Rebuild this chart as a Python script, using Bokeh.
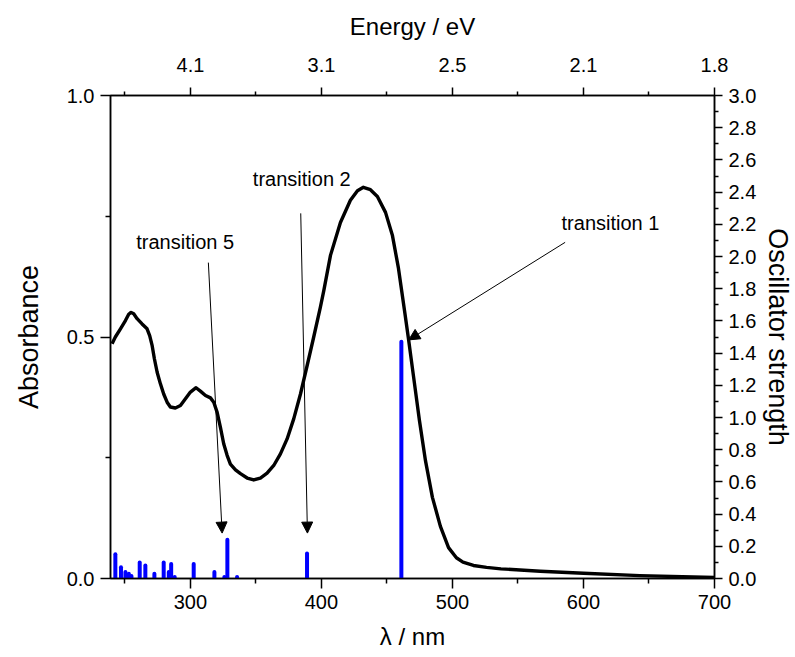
from bokeh.plotting import figure
from bokeh.models import (Range1d, LinearAxis, FixedTicker, PrintfTickFormatter,
                          Arrow, NormalHead, Label, ColumnDataSource)
from bokeh.embed import file_html
from bokeh.resources import INLINE

# ---- data ----
wavelength = [240.2, 242.7, 246.6, 250.4, 252.9, 254.7, 256.7, 259.3, 263.1, 266.9,
              268.9, 270.8, 272.5, 274.6, 277.1, 279.6, 282.2, 284.7, 288.5, 292.4,
              296.2, 300.0, 304.3, 307.6, 311.5, 315.3, 317.8, 320.4, 322.9, 325.4,
              328.0, 330.5, 334.4, 338.2, 343.3, 348.3, 353.4, 358.5, 363.6, 368.7,
              373.8, 378.9, 384.0, 389.1, 394.1, 399.2, 401.8, 406.9, 414.5, 422.1,
              427.5, 432.0, 437.4, 442.7, 448.9, 454.2, 458.8, 463.4, 466.4, 470.2,
              474.8, 479.4, 484.7, 490.8, 497.0, 503.0, 508.0, 516.0, 526.0, 537.0,
              567.0, 600.0, 643.0, 700.0]
absorbance = [0.486, 0.500, 0.517, 0.534, 0.547, 0.551, 0.548, 0.538, 0.527, 0.517,
              0.503, 0.482, 0.455, 0.427, 0.403, 0.382, 0.365, 0.355, 0.353, 0.358,
              0.372, 0.386, 0.395, 0.388, 0.379, 0.374, 0.365, 0.344, 0.313, 0.279,
              0.255, 0.237, 0.225, 0.217, 0.208, 0.204, 0.208, 0.218, 0.234, 0.258,
              0.289, 0.331, 0.382, 0.441, 0.500, 0.562, 0.596, 0.669, 0.737, 0.783,
              0.803, 0.810, 0.805, 0.791, 0.758, 0.710, 0.642, 0.555, 0.497, 0.420,
              0.327, 0.244, 0.168, 0.108, 0.064, 0.043, 0.034, 0.027, 0.023, 0.020,
              0.015, 0.011, 0.006, 0.002]

transition_wl = [242.7, 247, 250.4, 253, 255, 261.3, 265.6, 272.5, 279.6, 283.5,
                 285.3, 288, 302.5, 318.3, 325.9, 328.2, 335.6, 389, 461]
osc_strength = [0.15, 0.07, 0.04, 0.03, 0.015, 0.10, 0.08, 0.03, 0.10, 0.04,
                0.09, 0.01, 0.09, 0.04, 0.01, 0.24, 0.01, 0.155, 1.47]

wl_major_ticks = [300, 400, 500, 600, 700]
wl_minor_ticks = [250, 350, 450, 550, 650]
energy_labels = ["4.1", "3.1", "2.5", "2.1", "1.8"]
abs_major_ticks = [0.0, 0.5, 1.0]
abs_minor_ticks = [0.25, 0.75]
osc_major_ticks = [0.0, 0.2, 0.4, 0.6, 0.8, 1.0, 1.2, 1.4, 1.6, 1.8, 2.0,
                   2.2, 2.4, 2.6, 2.8, 3.0]
osc_minor_ticks = [0.1, 0.3, 0.5, 0.7, 0.9, 1.1, 1.3, 1.5, 1.7, 1.9, 2.1,
                   2.3, 2.5, 2.7, 2.9]

FONT = "Liberation Sans"

p = figure(frame_width=604, frame_height=483, output_backend="svg",
           toolbar_location=None, x_range=Range1d(239, 700),
           y_range=Range1d(0, 1.0), x_axis_location=None, y_axis_location=None,
           min_border_left=110, min_border_top=95, min_border_right=0,
           min_border_bottom=0)
p.extra_y_ranges = {"osc": Range1d(0, 3.0)}
p.grid.visible = False
p.outline_line_color = "black"
p.outline_line_width = 1.5
p.background_fill_color = "white"
p.border_fill_color = "white"


def style_axis(ax, major_out=10, minor_out=5, lab_standoff=5, title_standoff=10,
               title_size="24px"):
    ax.axis_line_color = "black"
    ax.axis_line_width = 1.5
    ax.major_tick_line_color = "black"
    ax.major_tick_line_width = 1.5
    ax.minor_tick_line_color = "black"
    ax.minor_tick_line_width = 1.5
    ax.major_tick_in = 0
    ax.major_tick_out = major_out
    ax.minor_tick_in = 0
    ax.minor_tick_out = minor_out
    ax.major_label_text_font = FONT
    ax.major_label_text_font_size = "20px"
    ax.major_label_text_color = "black"
    ax.major_label_standoff = lab_standoff
    ax.axis_label_text_font = FONT
    ax.axis_label_text_font_size = title_size
    ax.axis_label_text_font_style = "normal"
    ax.axis_label_text_color = "black"
    ax.axis_label_standoff = title_standoff


bottom = LinearAxis(axis_label="λ / nm",
                    ticker=FixedTicker(ticks=wl_major_ticks, minor_ticks=wl_minor_ticks))
style_axis(bottom, 10, 5, 6, 11)
p.add_layout(bottom, "below")

top = LinearAxis(axis_label="Energy / eV",
                 ticker=FixedTicker(ticks=wl_major_ticks, minor_ticks=wl_minor_ticks),
                 major_label_overrides={t: l for t, l in zip(wl_major_ticks, energy_labels)})
style_axis(top, 8, 4, 16, 15)
p.add_layout(top, "above")

left = LinearAxis(axis_label="Absorbance",
                  ticker=FixedTicker(ticks=abs_major_ticks, minor_ticks=abs_minor_ticks),
                  formatter=PrintfTickFormatter(format="%.1f"))
style_axis(left, 10, 5, 6, 20, "27px")
p.add_layout(left, "left")

right = LinearAxis(axis_label="Oscillator strength", y_range_name="osc",
                   ticker=FixedTicker(ticks=osc_major_ticks, minor_ticks=osc_minor_ticks),
                   formatter=PrintfTickFormatter(format="%.1f"))
style_axis(right, 8, 4, 6, 4, "27px")
p.add_layout(right, "right")

# transitions (sticks) on the oscillator-strength axis
bars = ColumnDataSource(dict(x=transition_wl, y0=[0.0] * len(transition_wl), y1=osc_strength))
p.segment(x0="x", y0="y0", x1="x", y1="y1", source=bars, y_range_name="osc",
          line_color="#0000FF", line_width=4, line_cap="round")

# absorbance spectrum
p.line(wavelength, absorbance, line_color="black", line_width=3.4, line_join="round")

# annotations
arrows = [
    ("transition 1", 620.6, 0.737, 586.0, 0.696, 466.6, 0.494),
    ("transition 2", 385.0, 0.827, 384.2, 0.756, 389.3, 0.094),
    ("transition 5", 296.0, 0.696, 313.7, 0.654, 324.2, 0.094),
]
for txt, tx, ty, xs, ys, xe, ye in arrows:
    p.add_layout(Arrow(end=NormalHead(size=11, fill_color="black", line_color="black",
                                      line_width=1),
                       x_start=xs, y_start=ys, x_end=xe, y_end=ye,
                       line_color="black", line_width=1))
    p.add_layout(Label(x=tx, y=ty, text=txt, text_font=FONT, text_font_size="20px",
                       text_align="center", text_baseline="middle", text_color="black"))

open("out.html", "w").write(file_html(p, INLINE))
